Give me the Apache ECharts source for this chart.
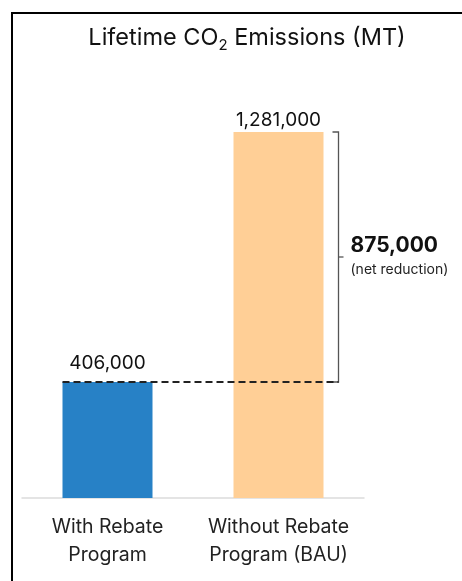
<!DOCTYPE html>
<html>
<head>
<meta charset="utf-8">
<script src="https://cdn.jsdelivr.net/npm/echarts@6/dist/echarts.min.js"></script>
<style>
  html, body { margin: 0; padding: 0; background: #fff; }
  #chart { width: 462px; height: 581px; }
</style>
</head>
<body>
<div id="chart"></div>
<script>
const categories = ['With Rebate\nProgram', 'Without Rebate\nProgram (BAU)'];
const emissions  = [406000, 1281000];
const barColors  = ['#2781c6', '#ffcf96'];

const FONT = 'Inter';

function fmt(v) {
    return v.toLocaleString('en-US');
}

const chart = echarts.init(document.getElementById('chart'));

const option = {
    animation: false,
    title: {
        text: '{a|Lifetime CO}{s|2}{a| Emissions (MT)}',
        left: 242,
        textAlign: 'center',
        top: 18,
        textStyle: {
            rich: {
                a: { fontFamily: FONT, fontSize: 23.5, fontWeight: 'normal', color: '#111', lineHeight: 30 },
                s: { fontFamily: FONT, fontSize: 15, fontWeight: 'normal', color: '#111', lineHeight: 30, verticalAlign: 'bottom', padding: [8, 0, 0, 0] }
            }
        }
    },
    grid: { left: 22, right: 98, top: 98, bottom: 83 },
    xAxis: {
        type: 'category',
        data: categories,
        axisLine: { lineStyle: { color: '#dcdcdc', width: 1.5 } },
        axisTick: { show: false },
        axisLabel: {
            interval: 0,
            hideOverlap: false,
            fontFamily: FONT, fontSize: 19.5, color: '#222', lineHeight: 28, margin: 15
        }
    },
    yAxis: {
        type: 'value',
        min: 0,
        max: 1400000,
        show: false,
        splitLine: { show: false }
    },
    series: [{
        type: 'bar',
        barWidth: 90,
        data: emissions.map((v, i) => ({
            value: v,
            itemStyle: { color: barColors[i] },
            label: { distance: i === 0 ? 9 : 2 }
        })),
        label: {
            show: true,
            position: 'top',
            fontFamily: FONT,
            fontSize: 19,
            color: '#111',
            formatter: (p) => fmt(p.value)
        }
    }]
};
chart.setOption(option);

// bracket + dashed reference line, placed through the chart's own scales
const low  = emissions[0];
const high = emissions[1];
const pLow  = chart.convertToPixel({ seriesIndex: 0 }, [0, low]);
const pHigh = chart.convertToPixel({ seriesIndex: 0 }, [1, high]);
const pHighLow = chart.convertToPixel({ seriesIndex: 0 }, [1, low]);
const halfBar = 45;
const bx = pHigh[0] + halfBar + 15;
const midY = (pHigh[1] + pHighLow[1]) / 2;

chart.setOption({
    graphic: [
        {
            type: 'rect',
            shape: { x: 12, y: 13, width: 600, height: 700 },
            style: { fill: 'none', stroke: '#000', lineWidth: 2 },
            silent: true
        },
        {
            type: 'line',
            shape: { x1: pLow[0] - halfBar, y1: pLow[1], x2: bx, y2: pLow[1] },
            style: { stroke: '#222', lineWidth: 2, lineDash: [7, 4] },
            z: 10
        },
        {
            type: 'polyline',
            shape: { points: [[bx - 6, pHigh[1]], [bx, pHigh[1]], [bx, pHighLow[1]], [bx - 6, pHighLow[1]]] },
            style: { stroke: '#555', lineWidth: 1.3, fill: 'none' }
        },
        {
            type: 'line',
            shape: { x1: bx, y1: midY, x2: bx + 5, y2: midY },
            style: { stroke: '#555', lineWidth: 1.3 }
        },
        {
            type: 'text',
            x: bx + 12,
            y: midY - 11,
            style: {
                text: fmt(high - low),
                fontFamily: FONT, fontSize: 21, fontWeight: 'bold', fill: '#111',
                verticalAlign: 'middle'
            }
        },
        {
            type: 'text',
            x: bx + 12,
            y: midY + 13,
            style: {
                text: '(net reduction)',
                fontFamily: FONT, fontSize: 14, fill: '#222',
                verticalAlign: 'middle'
            }
        }
    ]
});
</script>
</body>
</html>
